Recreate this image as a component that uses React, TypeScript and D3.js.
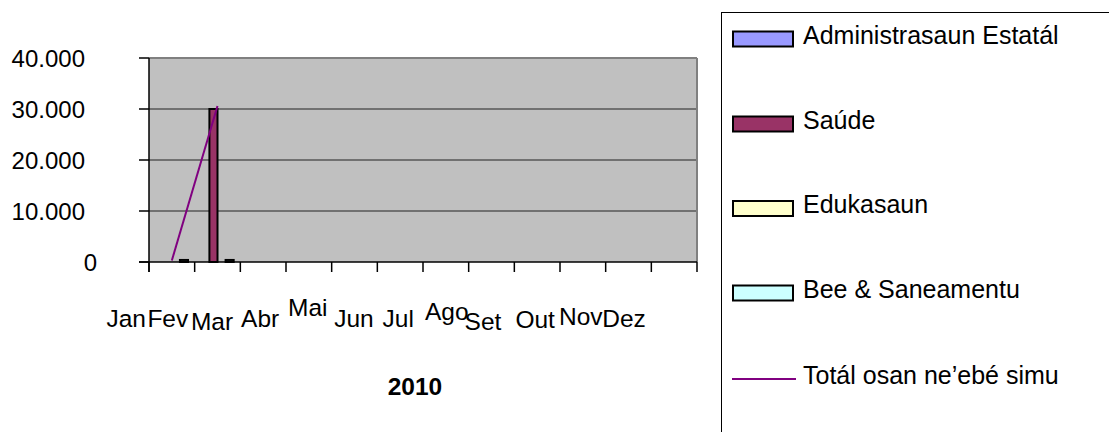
import React from "react";
import * as d3 from "d3";

const months = ["Jan", "Fev", "Mar", "Abr", "Mai", "Jun", "Jul", "Ago", "Set", "Out", "Nov", "Dez"];
const seriesNames = ["Administrasaun Estatál", "Saúde", "Edukasaun", "Bee & Saneamentu"];
const seriesColors = ["#9999FF", "#993366", "#FFFFCC", "#CCFFFF"];
const administrasaun: (number | null)[] = [null, null, null, null, null, null, null, null, null, null, null, null];
const saude: (number | null)[] = [null, null, 30000, null, null, null, null, null, null, null, null, null];
const edukasaun: (number | null)[] = [null, null, null, null, null, null, null, null, null, null, null, null];
const bee: (number | null)[] = [null, 400, 400, null, null, null, null, null, null, null, null, null];
const totalName = "Totál osan ne’ebé simu";
const total: (number | null)[] = [null, 300, 30600, null, null, null, null, null, null, null, null, null];
const yTicks = [0, 10000, 20000, 30000, 40000];
const yTickLabels = ["0", "10.000", "20.000", "30.000", "40.000"];
const xTitle = "2010";

// layout (label jitter as in the source picture)
const labelDx = [0, -4, -5.5, -3, -1, -0.5, -2, 1, -8.5, -2, -2, -4.5];
const labelBaseline = [327, 327, 329.5, 327, 316, 327, 326.5, 319.5, 329.5, 328, 324.5, 327];

const W = 1109, H = 432;
const L = 149, R = 697, T = 58, B = 262;
const FONT = "'Liberation Sans', Arial, sans-serif";

export default function App() {
  const bw = (R - L) / 12;
  const x = d3.scaleBand<string>().domain(months).range([L - bw, R - bw]).padding(0);
  const y = d3.scaleLinear().domain([0, 40000]).range([B, T]);
  const xs = d3.scaleBand<number>().domain([0, 1, 2, 3]).range([6.65, bw - 6.65]).padding(0);
  const seriesData = [administrasaun, saude, edukasaun, bee];
  const tickXs = d3.range(13).map((i) => L + i * bw);

  const linePts = months
    .map((m, i) => ({ m, v: total[i] }))
    .filter((d) => d.v != null) as { m: string; v: number }[];
  const line = d3
    .line<{ m: string; v: number }>()
    .x((d) => (x(d.m) as number) + bw / 2)
    .y((d) => y(d.v));

  const legendYs = [39, 124, 208.5, 293, 379];

  return (
    <svg width={W} height={H} style={{ position: "absolute", left: 0, top: 0, background: "#fff" }} fontFamily={FONT}>
      <rect x={L} y={T} width={R - L} height={B - T} fill="#C0C0C0" />
      {yTicks.filter((t) => t > 0 && t < 40000).map((t) => (
        <line key={t} x1={L} x2={R} y1={y(t)} y2={y(t)} stroke="#222" strokeWidth={1} />
      ))}
      <line x1={L} x2={R} y1={T} y2={T} stroke="#808080" strokeWidth={2} />
      <line x1={R} x2={R} y1={T} y2={B} stroke="#808080" strokeWidth={2} />

      {seriesData.map((arr, si) =>
        arr.map((v, i) =>
          v == null ? null : (
            <rect
              key={`${si}-${i}`}
              x={(x(months[i]) as number) + (xs(si) as number)}
              y={y(v)}
              width={xs.bandwidth()}
              height={B - y(v)}
              fill={seriesColors[si]}
              stroke="#000"
              strokeWidth={2}
            />
          )
        )
      )}

      <path d={line(linePts) || ""} fill="none" stroke="#800080" strokeWidth={2} />

      <line x1={L} x2={L} y1={T} y2={B + 10} stroke="#000" strokeWidth={1.5} />
      <line x1={L - 10} x2={R} y1={B} y2={B} stroke="#000" strokeWidth={1.5} />
      {yTicks.map((t) => (
        <line key={t} x1={L - 10} x2={L} y1={y(t)} y2={y(t)} stroke="#000" strokeWidth={1.5} />
      ))}
      {tickXs.map((tx, i) => (
        <line key={i} x1={tx} x2={tx} y1={B} y2={B + 10} stroke="#000" strokeWidth={1.5} />
      ))}

      {yTicks.map((t, i) => (
        <text key={t} x={t === 0 ? 97 : 85} y={y(t)} dy="0.36em" textAnchor="end" fontSize={24} fill="#000">
          {yTickLabels[i]}
        </text>
      ))}

      {months.map((m, i) => (
        <text key={m} x={(x(m) as number) + bw / 2 + labelDx[i]} y={labelBaseline[i]} textAnchor="middle" fontSize={24.5} fill="#000">
          {m}
        </text>
      ))}

      <text x={415} y={395} textAnchor="middle" fontSize={24.5} fontWeight="bold" fill="#000">
        {xTitle}
      </text>

      <rect x={721.5} y={12.5} width={500} height={500} fill="#fff" stroke="#000" strokeWidth={1} />
      {seriesNames.map((n, i) => (
        <g key={n}>
          <rect x={733} y={legendYs[i] - 7.5} width={60} height={15} fill={seriesColors[i]} stroke="#000" strokeWidth={2} />
          <text x={803} y={legendYs[i] + 4.5} fontSize={25} fill="#000">{n}</text>
        </g>
      ))}
      <line x1={732} x2={796} y1={legendYs[4]} y2={legendYs[4]} stroke="#800080" strokeWidth={2} />
      <text x={803} y={legendYs[4] + 4.5} fontSize={25} fill="#000">{totalName}</text>
    </svg>
  );
}
